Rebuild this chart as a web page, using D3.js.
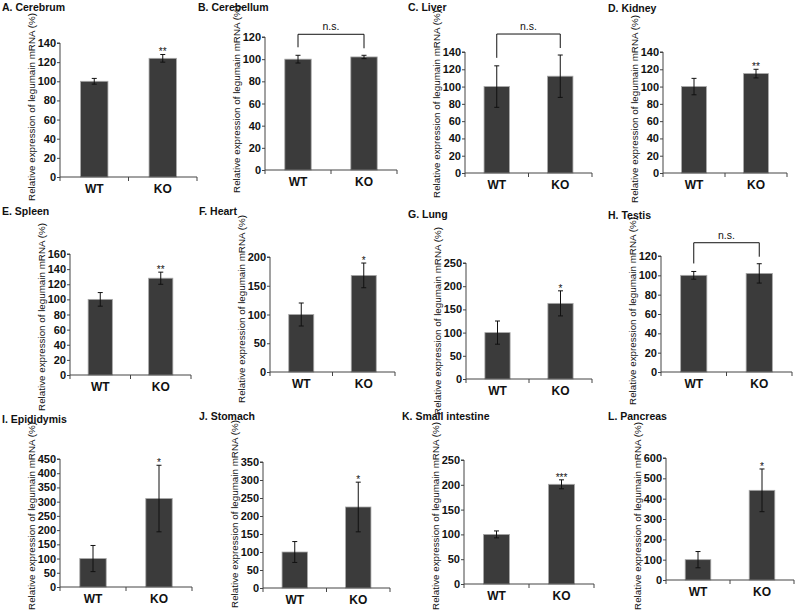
<!DOCTYPE html>
<html><head><meta charset="utf-8">
<script src="https://cdn.jsdelivr.net/npm/d3@7"></script>
<style>
html,body{margin:0;padding:0;background:#fff;}
svg{display:block;font-family:"Liberation Sans",Arial,sans-serif;}
</style></head>
<body>
<svg id="chart" width="796" height="612"></svg>
<script>
// ---- data ----
const panelTitles = ["A. Cerebrum","B. Cerebellum","C. Liver","D. Kidney","E. Spleen","F. Heart","G. Lung","H. Testis","I. Epididymis","J. Stomach","K. Small intestine","L. Pancreas"];
const categories = ["WT","KO"];
const wtMeans = [100,100,100,100,100,100,100,100,100,100,100,100];
const koMeans = [124,102,112,115,128,168,163,102,311,225,201,441];
const wtErr = [3,3.5,24,9.5,9,20,25,4,46,29,7,40];
const koErr = [4,1.5,24.5,5,8,21.5,27,10,117,69,9,105];
const significance = ["**","n.s.","n.s.","**","**","*","*","n.s.","*","*","***","*"];
const yMax = [140,120,140,140,160,200,250,120,450,350,250,600];
const yStep = [20,20,20,20,20,50,50,20,50,50,50,100];
const yAxisLabel = "Relative expression of legumain mRNA (%)";

// ---- layout (pixel frames of each panel) ----
const layout = [
 {x0:60,x1:197,yTop:43,y0:177,tx:2,ty:11,ly:107},
 {x0:265,x1:397,yTop:37,y0:170,tx:198,ty:11,ly:99},
 {x0:465,x1:592,yTop:52,y0:173,tx:408,ty:11,ly:104},
 {x0:663,x1:787,yTop:52,y0:173,tx:608,ty:12,ly:109},
 {x0:70,x1:191,yTop:254,y0:375,tx:2,ty:215,ly:317},
 {x0:270,x1:395,yTop:257,y0:372,tx:199,ty:215,ly:309},
 {x0:466,x1:592,yTop:263,y0:379,tx:408,ty:218,ly:321},
 {x0:661,x1:792,yTop:256,y0:372,tx:608,ty:219,ly:311},
 {x0:60,x1:192,yTop:459,y0:587,tx:2,ty:423,ly:516},
 {x0:263,x1:390,yTop:462,y0:588,tx:199,ty:420,ly:514},
 {x0:464,x1:594,yTop:460,y0:584,tx:402,ty:420,ly:516},
 {x0:666,x1:794,yTop:458,y0:580,tx:608,ty:420,ly:516}
];

const svg = d3.select("#chart");
const axisColor = "#444";

panelTitles.forEach((title, i) => {
  const L = layout[i];
  const g = svg.append("g");
  const means = [wtMeans[i], koMeans[i]];
  const errs = [wtErr[i], koErr[i]];

  const x = d3.scaleBand().domain(categories).range([L.x0, L.x1]).paddingInner(0.6).paddingOuter(0.3);
  const y = d3.scaleLinear().domain([0, yMax[i]]).range([L.y0, L.yTop]);
  const ticks = d3.range(0, yMax[i] + 0.001, yStep[i]);

  // title
  g.append("text").attr("x", L.tx).attr("y", L.ty).attr("font-size", 10.5).attr("font-weight", "bold").attr("fill", "#111").text(title);

  // y axis label
  g.append("text")
    .attr("transform", `translate(${L.x0 - 25.5},${L.ly}) rotate(-90)`)
    .attr("text-anchor", "middle").attr("font-size", 9.8).attr("fill", "#111")
    .text(yAxisLabel);

  // bars
  g.selectAll("rect.bar").data(categories).enter().append("rect")
    .attr("x", d => x(d)).attr("width", x.bandwidth())
    .attr("y", (d, j) => y(means[j])).attr("height", (d, j) => y(0) - y(means[j]))
    .attr("fill", "#3b3b3b").attr("stroke", "#a8a8a8").attr("stroke-width", 0.8);

  // error bars
  categories.forEach((c, j) => {
    const cx = x(c) + x.bandwidth() / 2;
    const top = y(means[j] + errs[j]), bot = y(means[j] - errs[j]);
    g.append("line").attr("x1", cx).attr("x2", cx).attr("y1", top).attr("y2", bot).attr("stroke", "#111").attr("stroke-width", 1);
    [top, bot].forEach(yy => g.append("line").attr("x1", cx - 2.5).attr("x2", cx + 2.5).attr("y1", yy).attr("y2", yy).attr("stroke", "#111").attr("stroke-width", 1));
  });

  // y axis
  const yAxis = d3.axisLeft(y).tickValues(ticks).tickSize(3).tickPadding(1).tickFormat(d3.format("d"));
  const ya = g.append("g").attr("transform", `translate(${L.x0},0)`).call(yAxis);
  ya.select(".domain").attr("stroke", axisColor).attr("d", `M-3,${L.yTop}H0V${L.y0}`);
  ya.selectAll(".tick line").attr("stroke", axisColor);
  ya.selectAll(".tick text").attr("font-size", 11).attr("font-weight", "bold").attr("fill", "#111").attr("font-family", "Liberation Sans, Arial, sans-serif");

  // x axis
  const xa = g.append("g");
  xa.append("line").attr("x1", L.x0).attr("x2", L.x1).attr("y1", L.y0).attr("y2", L.y0).attr("stroke", axisColor);
  const bound = [L.x0, (x("WT") + x.bandwidth() + x("KO")) / 2, L.x1];
  bound.forEach(bx => xa.append("line").attr("x1", bx).attr("x2", bx).attr("y1", L.y0).attr("y2", L.y0 + 4).attr("stroke", axisColor));
  categories.forEach(c => {
    xa.append("text").attr("x", x(c) + x.bandwidth() / 2).attr("y", L.y0 + 16)
      .attr("text-anchor", "middle").attr("font-size", 12).attr("font-weight", "bold").attr("fill", "#111").text(c);
  });

  // significance
  const sig = significance[i];
  if (sig === "n.s.") {
    const cxs = categories.map(c => x(c) + x.bandwidth() / 2);
    const tops = categories.map((c, j) => y(means[j] + errs[j]));
    const bTop = Math.min(...tops) - 21;
    g.append("path")
      .attr("d", `M${cxs[0]},${tops[0] - 8}V${bTop}H${cxs[1]}V${tops[1] - 7}`)
      .attr("fill", "none").attr("stroke", "#111").attr("stroke-width", 1);
    g.append("text").attr("x", (cxs[0] + cxs[1]) / 2).attr("y", bTop - 4)
      .attr("text-anchor", "middle").attr("font-size", 10.5).attr("fill", "#111").text(sig);
  } else {
    const cx = x("KO") + x.bandwidth() / 2;
    g.append("text").attr("x", cx).attr("y", y(means[1] + errs[1]) + 1)
      .attr("text-anchor", "middle").attr("font-size", 10).attr("fill", "#111").text(sig);
  }
});
</script>
</body></html>
